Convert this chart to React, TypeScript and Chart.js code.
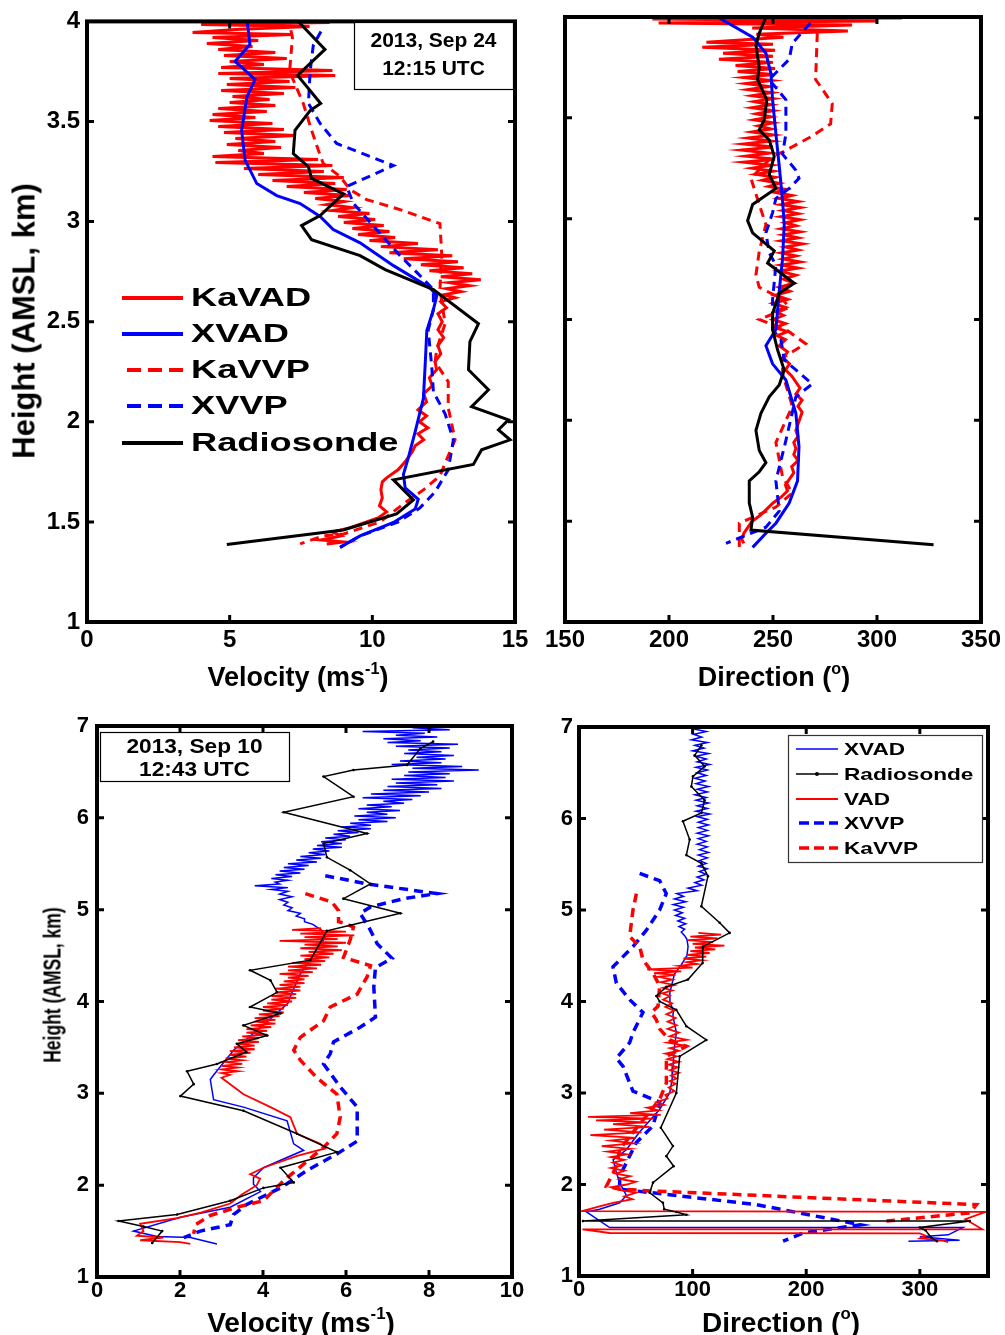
import React, { useEffect, useRef } from "react";
import { Chart, registerables } from "chart.js";
Chart.register(...registerables);

type P = [number, number];

const FONT = '"Liberation Sans", Arial, Helvetica, sans-serif';
const RED = "#ff0000";
const BLUE = "#0000ff";
const BLACK = "#000000";

// ---------- 2013 Sep 24, velocity (m/s) vs height (km) ----------
const sep24VelKaVAD: P[] = [
  [8.5,3.995],[4.0,3.985],[7.8,3.975],[5.2,3.96],[3.7,3.945],[7.2,3.935],[4.4,3.92],[6.0,3.905],[4.2,3.89],[5.8,3.875],
  [4.6,3.86],[6.6,3.845],[4.8,3.83],[7.0,3.815],[5.0,3.80],[6.2,3.785],[4.7,3.77],[8.6,3.755],[4.6,3.74],[8.7,3.73],
  [5.0,3.715],[7.1,3.70],[4.9,3.685],[7.3,3.67],[4.7,3.655],[6.9,3.64],[5.1,3.625],[6.4,3.61],[5.0,3.595],[6.6,3.58],
  [4.6,3.565],[6.3,3.55],[4.4,3.535],[5.9,3.52],[4.3,3.505],[6.5,3.49],[4.6,3.475],[6.9,3.46],[4.8,3.445],[7.3,3.43],
  [5.2,3.415],[6.6,3.40],[4.9,3.385],[6.8,3.37],[5.3,3.355],[6.2,3.34],[4.4,3.325],[8.1,3.31],[4.5,3.295],[8.6,3.28],
  [5.5,3.265],[8.3,3.25],[6.0,3.235],[9.0,3.22],[6.5,3.205],[8.7,3.19],[7.0,3.175],[9.1,3.16],[7.6,3.145],[9.2,3.13],
  [8.0,3.115],[9.0,3.10],[8.4,3.085],[9.3,3.07],[8.6,3.055],[9.9,3.04],[8.8,3.025],[10.1,3.01],[9.0,2.995],[10.4,2.98],
  [9.3,2.965],[10.6,2.95],[9.5,2.935],[10.8,2.92],[9.9,2.905],[11.6,2.89],[10.3,2.875],[12.3,2.86],[10.6,2.845],[12.8,2.83],
  [11.1,2.815],[13.0,2.80],[11.7,2.785],[13.2,2.77],[12.0,2.755],[13.5,2.74],[12.4,2.725],[13.8,2.71],[12.7,2.695],[13.4,2.68],
  [12.6,2.665],[13.1,2.65],[12.5,2.635],[12.9,2.62],[12.4,2.60],[12.6,2.57],[12.3,2.54],[12.45,2.50],[12.3,2.46],[12.5,2.42],
  [12.3,2.38],[12.4,2.34],[12.2,2.30],[12.25,2.26],[12.0,2.22],[12.1,2.18],[11.8,2.14],[11.9,2.10],[11.6,2.06],[11.9,2.03],
  [11.65,2.00],[11.95,1.97],[11.6,1.94],[11.8,1.91],[11.5,1.88],[11.4,1.85],[11.15,1.80],[10.9,1.76],[10.5,1.72],[10.35,1.70],
  [10.3,1.66],[10.35,1.62],[10.25,1.58],[10.5,1.55],[10.2,1.52],[9.8,1.50],[9.2,1.47],[8.6,1.45],[8.9,1.43],[8.2,1.41],
  [9.0,1.40],[8.4,1.39],
];
const sep24VelXVAD: P[] = [
  [5.6,4.02],[5.71,3.885],[5.19,3.80],[5.89,3.71],[5.6,3.62],[5.42,3.456],[5.54,3.307],[5.95,3.19],[6.65,3.13],[7.47,3.09],
  [8.17,3.026],[8.63,2.96],[9.57,2.894],[10.74,2.78],[12.02,2.67],[12.26,2.63],[12.14,2.56],[11.91,2.456],[11.85,2.28],[11.79,2.117],
  [11.5,1.95],[11.26,1.82],[11.09,1.737],[11.15,1.67],[11.61,1.613],[11.5,1.564],[10.74,1.497],[9.57,1.43],[8.87,1.373],
];
const sep24VelKaVVP: P[] = [
  [7.3,4.02],[7.1,3.985],[7.2,3.92],[7.1,3.75],[7.58,3.59],[7.87,3.456],[8.1,3.36],[8.28,3.29],[8.87,3.225],[9.22,3.16],
  [9.8,3.11],[10.97,3.06],[12.37,2.99],[12.43,2.84],[12.37,2.66],[12.55,2.49],[12.26,2.365],[12.2,2.30],[12.66,2.2],[12.66,2.07],
  [12.9,1.91],[12.66,1.83],[12.37,1.73],[11.79,1.66],[11.09,1.59],[10.27,1.50],[9.0,1.44],[8.28,1.43],[7.47,1.39],
];
const sep24VelXVVP: P[] = [
  [8.2,3.95],[7.93,3.88],[7.82,3.75],[7.76,3.59],[8.17,3.49],[8.75,3.39],[10.74,3.28],[9.1,3.175],[9.34,3.09],[10.15,2.96],
  [10.97,2.83],[11.67,2.73],[12.14,2.66],[12.14,2.56],[11.96,2.46],[12.02,2.365],[12.08,2.28],[12.14,2.15],[12.55,2.04],[12.84,1.91],
  [12.66,1.76],[12.2,1.65],[11.67,1.57],[10.91,1.50],[9.57,1.43],[8.87,1.373],
];
const sep24VelRadiosonde: P[] = [
  [7.2,4.05],[7.4,4.0],[8.34,3.86],[7.38,3.73],[8.19,3.59],[7.82,3.555],[7.29,3.456],[7.23,3.34],[7.76,3.274],[7.87,3.216],
  [8.99,3.138],[8.17,3.03],[7.52,2.98],[7.87,2.91],[9.57,2.83],[10.45,2.76],[12.14,2.66],[13.72,2.49],[13.42,2.40],[13.37,2.26],
  [14.07,2.16],[13.48,2.076],[14.77,2.01],[14.42,1.96],[14.83,1.91],[13.83,1.86],[13.54,1.787],[10.74,1.71],[11.44,1.61],[10.85,1.54],
  [8.98,1.46],[4.9,1.387],
];

// ---------- 2013 Sep 24, direction (deg) vs height (km) ----------
const sep24DirKaVAD: P[] = [
  [312,3.995],[192,3.99],[300,3.98],[195,3.97],[288,3.96],[240,3.945],[286,3.93],[242,3.915],[255,3.90],[218,3.875],
  [250,3.865],[216,3.85],[251,3.835],[226,3.82],[250,3.805],[224,3.79],[250,3.775],[232,3.76],[251,3.745],[233,3.73],
  [250,3.715],[236,3.70],[249,3.685],[237,3.67],[248,3.655],[238,3.64],[249,3.625],[240,3.61],[250,3.595],[241,3.58],
  [249,3.565],[240,3.55],[250,3.535],[242,3.52],[249,3.505],[241,3.49],[250,3.475],[243,3.46],[249,3.445],[240,3.43],
  [250,3.415],[238,3.40],[249,3.385],[236,3.37],[250,3.355],[235,3.34],[248,3.325],[237,3.31],[251,3.295],[236,3.28],
  [249,3.265],[240,3.25],[250,3.235],[242,3.22],[251,3.205],[245,3.19],[253,3.175],[248,3.16],[256,3.145],[251,3.13],
  [259,3.115],[253,3.10],[262,3.085],[254,3.07],[263,3.055],[255,3.04],[262,3.025],[254,3.01],[263,2.995],[256,2.98],
  [261,2.965],[254,2.95],[263,2.935],[255,2.92],[262,2.905],[254,2.89],[264,2.875],[256,2.86],[262,2.845],[254,2.83],
  [261,2.815],[255,2.80],[263,2.785],[254,2.77],[262,2.755],[253,2.74],[261,2.72],[255,2.70],[260,2.68],[253,2.66],
  [258,2.64],[251,2.62],[257,2.60],[250,2.58],[256,2.56],[251,2.54],[255,2.52],[250,2.50],[256,2.48],[251,2.46],
  [257,2.44],[252,2.42],[256,2.40],[253,2.37],[257,2.34],[255,2.31],[258,2.28],[256,2.25],[259,2.22],[261,2.19],
  [263,2.16],[261,2.13],[264,2.10],[262,2.07],[264,2.04],[263,2.01],[262,1.98],[261,1.95],[262,1.92],[260,1.89],
  [261,1.86],[260,1.83],[262,1.80],[259,1.77],[260,1.74],[258,1.71],[256,1.68],[257,1.65],[254,1.62],[250,1.59],
  [247,1.56],[244,1.53],[240,1.50],[238,1.47],[236,1.44],[235,1.41],[236,1.39],
];
const sep24DirXVAD: P[] = [
  [220,4.02],[240.2,3.90],[246.6,3.82],[249,3.72],[249.8,3.59],[251.4,3.42],[253,3.26],[254.6,3.09],[255.4,2.97],[254.6,2.80],
  [253,2.64],[251.4,2.45],[246.6,2.37],[249.8,2.28],[256.2,2.2],[261,2.035],[262.5,1.87],[261.8,1.70],[257.8,1.59],[251.4,1.49],
  [246.6,1.44],[240.2,1.37],
];
const sep24DirKaVVP: P[] = [
  [271.3,3.92],[270.5,3.69],[278.5,3.57],[277.7,3.47],[268.9,3.41],[254.6,3.33],[249.8,3.31],[239.4,3.2],[243.4,3.07],[246.6,2.97],
  [243.4,2.84],[241.8,2.72],[243.4,2.66],[254.6,2.6],[257.8,2.56],[243.4,2.50],[256.2,2.45],[265.7,2.38],[254.6,2.31],[254.6,2.23],
  [259.3,2.07],[251.4,1.89],[254.6,1.72],[259.3,1.64],[251.4,1.57],[233.8,1.49],[233.8,1.37],
];
const sep24DirXVVP: P[] = [
  [268,3.97],[259.3,3.87],[257.8,3.79],[253,3.74],[248.2,3.69],[256.2,3.59],[256.2,3.42],[254.6,3.32],[261,3.24],[262.5,3.2],
  [257.8,3.15],[251.4,3.10],[249.8,3.03],[246.6,2.93],[248.2,2.83],[251.4,2.77],[249.8,2.6],[249.8,2.45],[253.8,2.40],[255.4,2.3],
  [268.9,2.18],[261,2.117],[256.2,1.9],[251.4,1.70],[253,1.55],[246.6,1.47],[227.4,1.39],
];
const sep24DirRadiosonde: P[] = [
  [246,4.05],[246.6,4.0],[243.4,3.92],[241.8,3.86],[243.4,3.75],[242.6,3.69],[247,3.59],[245.8,3.49],[243.4,3.44],[248.2,3.39],
  [250.6,3.31],[248.2,3.22],[251.4,3.15],[240.2,3.07],[237.8,2.99],[240.2,2.93],[250.6,2.84],[247.4,2.78],[260.2,2.68],[253,2.63],
  [249.8,2.53],[249.8,2.45],[252.2,2.35],[255.4,2.25],[253,2.175],[248.2,2.117],[244.2,2.035],[241.8,1.95],[243.4,1.85],[246.6,1.79],
  [243.4,1.745],[238.6,1.70],[238.6,1.59],[240.2,1.52],[239.4,1.456],[327.2,1.383],
];

// ---------- 2013 Sep 10, velocity ----------
const sep10VelXVAD: P[] = [
  [7.6,6.98],[8.5,6.96],[6.4,6.94],[7.9,6.92],[7.2,6.90],[8.2,6.88],[6.9,6.86],[7.8,6.84],[7.0,6.82],[8.7,6.80],
  [7.2,6.78],[8.5,6.76],[7.5,6.74],[8.3,6.72],[7.4,6.70],[8.6,6.68],[7.7,6.66],[8.4,6.64],[7.3,6.62],[8.3,6.60],
  [7.1,6.58],[8.8,6.56],[7.6,6.54],[9.2,6.52],[7.5,6.50],[8.5,6.48],[7.4,6.46],[8.4,6.44],[7.1,6.42],[8.6,6.40],
  [7.2,6.38],[8.2,6.36],[7.0,6.34],[8.3,6.32],[6.9,6.30],[8.0,6.28],[6.6,6.26],[7.8,6.24],[6.4,6.22],[7.6,6.20],
  [6.9,6.18],[7.4,6.16],[6.5,6.14],[7.1,6.12],[6.3,6.10],[7.3,6.08],[6.5,6.06],[7.0,6.04],[6.2,6.02],[7.2,6.00],
  [6.3,5.98],[7.0,5.96],[6.1,5.94],[6.6,5.92],[5.9,5.90],[6.6,5.88],[5.8,5.86],[6.3,5.84],[5.7,5.82],[6.1,5.80],
  [5.5,5.78],[6.0,5.76],[5.4,5.74],[5.9,5.72],[5.3,5.70],[5.9,5.68],[5.2,5.66],[5.6,5.64],[5.1,5.62],[5.5,5.60],
  [4.9,5.58],[5.4,5.56],[4.8,5.54],[5.3,5.52],[4.6,5.50],[5.1,5.48],[4.5,5.46],[5.0,5.44],[4.4,5.42],[4.9,5.40],
  [4.3,5.38],[4.7,5.36],[4.2,5.34],[4.6,5.32],[4.3,5.30],[4.4,5.28],[3.8,5.26],[4.6,5.24],[4.2,5.22],[4.6,5.20],
  [4.4,5.17],[4.7,5.14],[4.4,5.11],[4.6,5.08],[4.5,5.05],[4.7,5.02],[4.6,4.99],[4.9,4.96],[4.8,4.93],[5.0,4.90],
  [5.0,4.87],[5.2,4.84],[5.3,4.81],[5.4,4.78],[5.5,4.70],[5.2,4.5],[4.9,4.3],[4.7,4.1],[4.6,3.98],[4.0,3.74],
  [3.29,3.47],[2.81,3.2],[2.73,3.15],[2.81,2.93],[3.53,2.85],[4.58,2.70],[4.74,2.45],[4.98,2.38],[4.01,2.19],[3.77,2.08],
  [3.77,2.01],[3.94,1.93],[3.21,1.76],[2.01,1.65],[0.88,1.50],[1.45,1.44],[2.25,1.43],[2.89,1.36],
];
const sep10VelRadiosonde: P[] = [
  [8.1,6.83],[7.79,6.755],[7.47,6.575],[6.18,6.52],[5.46,6.45],[6.18,6.23],[4.5,6.06],[6.51,5.83],[5.46,5.72],[5.54,5.57],
  [6.1,5.43],[6.59,5.28],[5.94,5.12],[7.31,4.96],[6.1,4.83],[5.54,4.77],[5.14,4.45],[3.69,4.34],[4.18,4.23],[4.34,4.10],
  [3.69,3.94],[4.42,3.87],[3.53,3.74],[4.1,3.63],[3.37,3.54],[3.6,3.45],[2.89,3.32],[2.17,3.24],[2.33,3.10],[2.01,2.97],
  [3.53,2.81],[4.82,2.56],[5.78,2.36],[4.42,2.19],[4.74,2.03],[4.01,1.97],[3.21,1.83],[1.93,1.68],[0.52,1.61],[1.12,1.55],
  [1.57,1.50],[1.33,1.37],
];
const sep10VelKaVAD: P[] = [
  [5.4,4.80],[4.7,4.78],[6.0,4.76],[4.9,4.74],[6.2,4.72],[5.0,4.70],[5.8,4.68],[4.4,4.66],[6.0,4.64],[5.0,4.62],
  [5.8,4.60],[4.9,4.58],[5.9,4.56],[5.1,4.54],[5.7,4.52],[4.9,4.50],[5.6,4.48],[5.0,4.46],[5.5,4.44],[4.7,4.42],
  [5.4,4.40],[4.6,4.38],[5.3,4.36],[4.6,4.34],[5.2,4.32],[4.4,4.30],[5.1,4.28],[4.6,4.26],[5.0,4.24],[4.5,4.22],
  [5.0,4.20],[4.4,4.18],[4.9,4.16],[4.3,4.14],[4.9,4.12],[4.3,4.10],[4.8,4.08],[4.2,4.06],[4.8,4.04],[4.2,4.02],
  [4.7,4.00],[4.1,3.98],[4.6,3.96],[4.0,3.94],[4.5,3.92],[4.0,3.90],[4.5,3.88],[3.9,3.86],[4.4,3.84],[3.8,3.82],
  [4.3,3.80],[3.8,3.78],[4.3,3.76],[3.7,3.74],[4.2,3.72],[3.6,3.70],[4.1,3.68],[3.6,3.66],[4.1,3.64],[3.5,3.62],
  [3.9,3.60],[3.4,3.58],[3.9,3.56],[3.4,3.54],[3.8,3.52],[3.3,3.50],[3.8,3.48],[3.2,3.46],[3.7,3.44],[3.2,3.42],
  [3.6,3.40],[3.1,3.38],[3.5,3.36],[3.1,3.34],[3.5,3.32],[3.0,3.30],[3.4,3.28],[3.0,3.26],[3.4,3.24],[3.0,3.22],
  [3.2,3.20],[3.0,3.17],[3.53,2.99],[4.18,2.85],[4.66,2.74],[4.82,2.56],[5.38,2.45],[5.5,2.40],[4.82,2.32],[4.01,2.19],
  [3.69,2.12],[3.93,2.07],[3.85,2.0],[3.5,1.90],[3.21,1.80],[2.5,1.70],[1.93,1.64],[1.04,1.58],[1.12,1.50],[0.96,1.45],
  [1.6,1.43],[1.04,1.40],[2.0,1.38],[2.25,1.36],
];
const sep10VelXVVP: P[] = [
  [5.5,5.37],[6.51,5.28],[8.19,5.175],[7.39,5.12],[6.59,5.03],[6.34,4.96],[6.55,4.81],[6.75,4.63],[7.11,4.47],[6.71,4.37],
  [6.67,4.16],[6.71,3.83],[6.34,3.72],[5.7,3.56],[5.62,3.43],[5.46,3.32],[5.86,3.07],[6.27,2.85],[6.27,2.48],[5.78,2.34],
  [5.06,2.16],[4.42,1.97],[3.61,1.79],[3.29,1.68],[3.21,1.57],[2.49,1.50],[2.09,1.43],
];
const sep10VelKaVVP: P[] = [
  [5.02,5.175],[5.66,5.083],[5.82,4.99],[5.82,4.87],[5.98,4.85],[6.18,4.81],[6.1,4.67],[5.94,4.48],[6.59,4.39],[6.51,4.27],
  [6.27,4.08],[5.62,3.94],[5.46,3.79],[4.9,3.61],[4.74,3.47],[4.9,3.36],[5.3,3.17],[5.78,2.99],[5.86,2.74],[5.78,2.56],
  [5.46,2.41],[4.98,2.23],[4.5,2.05],[4.01,1.83],[3.37,1.76],[2.73,1.67],[2.37,1.57],[2.33,1.47],
];

// ---------- 2013 Sep 10, direction ----------
const sep10DirXVAD: P[] = [
  [100,6.98],[112,6.95],[101,6.92],[108,6.89],[99,6.86],[113,6.83],[102,6.80],[110,6.77],[100,6.74],[114,6.71],
  [103,6.68],[112,6.65],[104,6.62],[115,6.59],[103,6.56],[113,6.53],[104,6.50],[112,6.47],[102,6.44],[111,6.41],
  [103,6.38],[114,6.35],[104,6.32],[113,6.29],[102,6.26],[112,6.23],[103,6.20],[114,6.17],[104,6.14],[113,6.11],
  [103,6.08],[115,6.05],[104,6.02],[113,5.99],[105,5.96],[114,5.93],[105,5.90],[113,5.87],[104,5.84],[114,5.81],
  [105,5.78],[112,5.75],[104,5.72],[113,5.69],[106,5.66],[114,5.63],[105,5.60],[113,5.57],[106,5.54],[112,5.51],
  [105,5.48],[113,5.45],[106,5.42],[112,5.39],[104,5.36],[110,5.33],[102,5.30],[108,5.27],[96,5.24],[104,5.21],
  [86,5.18],[92,5.15],[84,5.12],[94,5.09],[83,5.06],[92,5.03],[84,5.00],[91,4.97],[85,4.94],[93,4.91],
  [87,4.88],[94,4.85],[88,4.82],[93,4.79],[90,4.76],[93,4.72],[95,4.68],[96,4.60],[95,4.50],[90,4.40],
  [84,4.30],[82,4.20],[80,4.10],[80,4.00],[83,3.90],[82.7,3.84],[85.7,3.66],[84,3.50],[82.7,3.29],[82,3.15],
  [79.8,3.0],[70.9,2.82],[53.1,2.57],[41.7,2.38],[30,2.27],[32.9,2.13],[35.8,2.02],[41.7,1.88],[35.8,1.80],[18.2,1.73],
  [6.5,1.70],[27,1.53],[338,1.53],[325,1.45],[300,1.43],[335,1.39],[290,1.38],
];
const sep10DirRadiosonde: P[] = [
  [107.7,6.80],[101.8,6.69],[110.6,6.57],[100.3,6.46],[98.9,6.35],[110.6,6.2],[107.7,6.06],[91.5,5.97],[97.4,5.77],[94.5,5.60],
  [107.7,5.51],[113.5,5.37],[107.7,5.04],[123.8,4.86],[132.6,4.75],[109.1,4.60],[108.8,4.42],[95.9,4.24],[76.9,4.16],[68.1,4.06],
  [71,4.0],[85.6,3.91],[94.5,3.73],[112.1,3.58],[88.6,3.40],[85.7,3.0],[72,2.62],[82.7,2.42],[76.9,2.31],[83.3,2.20],
  [65.1,2.02],[62.2,1.91],[73.9,1.80],[75,1.73],[85.7,1.70],[94.5,1.67],[3.5,1.60],[344,1.60],[300,1.53],[305,1.50],
  [310,1.42],[315,1.38],
];
const sep10DirKaVAD: P[] = [
  [105,4.75],[125,4.73],[98,4.71],[122,4.69],[96,4.67],[118,4.65],[100,4.63],[128,4.61],[102,4.59],[120,4.57],
  [98,4.55],[115,4.53],[95,4.51],[112,4.49],[92,4.47],[108,4.45],[95,4.43],[104,4.41],[88,4.39],[100,4.37],
  [60,4.35],[90,4.33],[66,4.31],[85,4.29],[70,4.27],[82,4.24],[72,4.21],[84,4.18],[74,4.15],[82,4.12],
  [73,4.09],[80,4.06],[74,4.02],[82,3.98],[76,3.94],[84,3.90],[77,3.86],[85,3.82],[78,3.78],[86,3.74],
  [78,3.70],[88,3.66],[80,3.62],[95,3.58],[78,3.55],[92,3.52],[80,3.49],[88,3.46],[76,3.43],[86,3.40],
  [78,3.37],[88,3.34],[79,3.31],[87,3.28],[80,3.25],[88,3.22],[81,3.19],[86,3.16],[80,3.13],[85,3.10],
  [79,3.06],[84,3.02],[76,2.98],[78,2.94],[68,2.90],[75,2.87],[60,2.84],[70,2.81],[45,2.78],[72,2.76],
  [8,2.74],[66,2.72],[15,2.70],[60,2.68],[30,2.66],[62,2.63],[22,2.60],[55,2.57],[10,2.54],[50,2.51],
  [28,2.48],[48,2.45],[20,2.42],[45,2.39],[25,2.36],[42,2.33],[28,2.30],[40,2.27],[30,2.24],[38,2.21],
  [28,2.18],[40,2.15],[32,2.12],[45,2.09],[36,2.06],[50,2.03],[42,2.00],[28,1.97],[35,1.94],[50,1.91],
  [40,1.87],[47,1.84],[30,1.80],[18,1.76],[3,1.71],[358,1.70],[340,1.62],[355,1.51],[3,1.51],[27,1.47],
  [300,1.465],[305,1.44],[300,1.41],[320,1.39],[325,1.37],
];
const sep10DirXVVP: P[] = [
  [53.4,5.40],[71,5.32],[76.8,5.18],[71,5.0],[59.3,4.78],[47.5,4.6],[29.9,4.38],[32.9,4.20],[44.6,4.02],[56.3,3.88],
  [47.5,3.66],[44.6,3.55],[32.9,3.38],[38.8,3.29],[47.5,3.02],[71,2.90],[65.1,2.64],[50.5,2.46],[35.8,2.09],[35.8,1.95],
  [156,1.78],[248,1.56],[197.2,1.47],[179.6,1.38],
];
const sep10DirKaVVP: P[] = [
  [50.5,5.18],[47.5,5.0],[44.6,4.71],[53.4,4.6],[56.3,4.456],[65.1,4.31],[71,4.17],[69.6,3.95],[63.7,3.88],[68.1,3.8],
  [71,3.7],[79.8,3.58],[94.5,3.51],[76.9,3.40],[76.9,3.11],[71,2.93],[59.3,2.75],[47.5,2.57],[35.8,2.38],[32.9,2.2],
  [24.1,1.98],[35.8,1.95],[62.8,1.93],[349.8,1.78],[344,1.69],[270.6,1.60],
];

// Tick settings
const sep24HeightTicks = { min: 1, max: 4, step: 0.5 };
const sep10HeightTicks = { min: 1, max: 7, step: 1 };
const sep24VelTicks = { min: 0, max: 15, step: 5 };
const sep24DirTicks = { min: 150, max: 350, step: 50 };
const sep10VelTicks = { min: 0, max: 10, step: 2 };
const sep10DirTicks = { min: 0, max: 360, step: 100 };

const pts = (a: P[]) => a.map(([x, y]) => ({ x, y }));

function ds(label: string, data: P[], color: string, width: number, dashed: boolean, order: number, dots = false) {
  return {
    label,
    data: pts(data),
    showLine: true,
    borderColor: color,
    backgroundColor: color,
    borderWidth: width,
    borderDash: dashed ? [9, 6] : [],
    pointRadius: dots ? 1.3 : 0,
    pointBorderWidth: 0,
    pointBackgroundColor: color,
    tension: 0,
    order,
  };
}

const framePlugin = {
  id: "frame",
  afterDatasetsDraw(chart: any) {
    const { ctx, chartArea: a, scales } = chart;
    ctx.save();
    ctx.strokeStyle = "#000";
    ctx.lineWidth = 3;
    ctx.setLineDash([]);
    const tl = 7;
    ctx.beginPath();
    for (const t of scales.x.ticks) {
      const x = scales.x.getPixelForValue(t.value);
      ctx.moveTo(x, a.bottom); ctx.lineTo(x, a.bottom - tl);
      ctx.moveTo(x, a.top); ctx.lineTo(x, a.top + tl);
    }
    for (const t of scales.y.ticks) {
      const y = scales.y.getPixelForValue(t.value);
      ctx.moveTo(a.left, y); ctx.lineTo(a.left + tl, y);
      ctx.moveTo(a.right, y); ctx.lineTo(a.right - tl, y);
    }
    ctx.stroke();
    ctx.lineWidth = 4;
    ctx.strokeRect(a.left, a.top, a.right - a.left, a.bottom - a.top);
    ctx.restore();
  },
  afterDraw(chart: any) {
    const o = chart.options.plugins.frame || {};
    const ctx = chart.ctx;
    const ox = o.ox || 0, oy = o.oy || 0;
    ctx.save();
    if (o.box) {
      const b = o.box;
      ctx.fillStyle = "#fff";
      ctx.fillRect(b.l - ox, b.t - oy, b.r - b.l, b.b - b.t);
      ctx.strokeStyle = b.stroke || "#000";
      ctx.lineWidth = 1.2;
      ctx.setLineDash([]);
      ctx.strokeRect(b.l - ox + 0.5, b.t - oy + 0.5, b.r - b.l, b.b - b.t);
      if (b.lines) {
        ctx.fillStyle = "#000";
        ctx.font = `bold ${b.size}px ${FONT}`;
        ctx.textAlign = "center";
        ctx.textBaseline = "middle";
        b.lines.forEach((s: string, i: number) => {
          ctx.save();
          ctx.translate((b.l + b.r) / 2 - ox, b.ys[i] - oy);
          ctx.scale(b.sx || 1, 1);
          ctx.fillText(s, 0, 0);
          ctx.restore();
        });
      }
    }
    if (o.legend) {
      const L = o.legend;
      L.items.forEach((it: any, i: number) => {
        const d = chart.data.datasets[it.ds];
        const y = L.ys[i] - oy;
        ctx.save();
        ctx.strokeStyle = d.borderColor;
        ctx.lineWidth = L.lw || d.borderWidth;
        const dashed = d.borderDash && d.borderDash.length > 0;
        ctx.setLineDash(dashed ? L.dash : []);
        ctx.beginPath();
        ctx.moveTo(L.x0 - ox + (dashed ? L.dashInset : 0), y);
        ctx.lineTo(L.x1 - ox, y);
        ctx.stroke();
        if (d.pointRadius > 0) {
          ctx.fillStyle = d.borderColor;
          ctx.beginPath();
          ctx.arc((L.x0 + L.x1) / 2 - ox, y, 2, 0, Math.PI * 2);
          ctx.fill();
        }
        ctx.fillStyle = "#000";
        ctx.font = `bold ${L.size}px ${FONT}`;
        ctx.textAlign = "left";
        ctx.textBaseline = "middle";
        ctx.translate(L.tx - ox, y + 1);
        ctx.scale(L.sx, 1);
        ctx.fillText(d.label, 0, 0);
        ctx.restore();
      });
    }
    ctx.restore();
  },
};

type Spec = {
  x: number; y: number; w: number; h: number;
  plot: { l: number; t: number; r: number; b: number };
  xt: { min: number; max: number; step: number };
  yt: { min: number; max: number; step: number };
  showY: boolean;
  font: number;
  xPad: number;
  yPad: number;
  datasets: any[];
  overlay: any;
};

function buildConfig(s: Spec): any {
  const tickFont = { family: FONT, weight: "bold", size: s.font };
  return {
    type: "scatter",
    data: { datasets: s.datasets },
    options: {
      responsive: false,
      animation: false,
      events: [],
      layout: { padding: { left: 0, bottom: 0, top: s.plot.t - s.y, right: s.x + s.w - s.plot.r } },
      plugins: {
        legend: { display: false },
        tooltip: { enabled: false },
        frame: { ox: s.x, oy: s.y, ...s.overlay },
      },
      scales: {
        x: {
          type: "linear",
          min: s.xt.min, max: s.xt.max,
          ticks: { stepSize: s.xt.step, includeBounds: false, font: tickFont, color: "#000", padding: s.xPad, maxRotation: 0, callback: (v: any) => String(v) },
          grid: { display: false, drawTicks: false },
          border: { display: false },
          afterFit: (sc: any) => { sc.height = s.y + s.h - s.plot.b; },
        },
        y: {
          type: "linear",
          min: s.yt.min, max: s.yt.max,
          ticks: { stepSize: s.yt.step, includeBounds: false, display: s.showY, font: tickFont, color: "#000", padding: s.yPad, callback: (v: any) => String(v) },
          grid: { display: false, drawTicks: false },
          border: { display: false },
          afterFit: (sc: any) => { sc.width = s.plot.l - s.x; },
        },
      },
    },
    plugins: [framePlugin],
  };
}

function Panel({ spec }: { spec: Spec }) {
  const ref = useRef<HTMLCanvasElement>(null);
  useEffect(() => {
    const chart = new Chart(ref.current as HTMLCanvasElement, buildConfig(spec));
    return () => chart.destroy();
  }, []);
  return (
    <canvas ref={ref} width={spec.w} height={spec.h}
      style={{ position: "absolute", left: spec.x, top: spec.y, width: spec.w, height: spec.h }} />
  );
}

const topLegend = {
  items: [{ ds: 0 }, { ds: 1 }, { ds: 2 }, { ds: 3 }, { ds: 4 }],
  ys: [298, 334, 370, 406, 443],
  x0: 122, x1: 183, dashInset: 5, dash: [14, 7], lw: 4,
  tx: 191, size: 25, sx: 1.45,
};

const panels: Spec[] = [
  {
    x: 40, y: 0, w: 500, h: 660, plot: { l: 87, t: 17, r: 515, b: 622 },
    xt: sep24VelTicks, yt: sep24HeightTicks, showY: true, font: 24, xPad: 4, yPad: 7,
    datasets: [
      ds("KaVAD", sep24VelKaVAD, RED, 3, false, 5),
      ds("XVAD", sep24VelXVAD, BLUE, 3, false, 2),
      ds("KaVVP", sep24VelKaVVP, RED, 3, true, 4),
      ds("XVVP", sep24VelXVVP, BLUE, 3, true, 3),
      ds("Radiosonde", sep24VelRadiosonde, BLACK, 3, false, 1),
    ],
    overlay: {
      legend: topLegend,
      box: { l: 354, t: 22, r: 513, b: 89, lines: ["2013, Sep 24", "12:15 UTC"], ys: [41, 69], size: 21 },
    },
  },
  {
    x: 540, y: 0, w: 465, h: 660, plot: { l: 565, t: 17, r: 983, b: 622 },
    xt: sep24DirTicks, yt: sep24HeightTicks, showY: false, font: 24, xPad: 4, yPad: 7,
    datasets: [
      ds("KaVAD", sep24DirKaVAD, RED, 3, false, 5),
      ds("XVAD", sep24DirXVAD, BLUE, 3, false, 2),
      ds("KaVVP", sep24DirKaVVP, RED, 3, true, 4),
      ds("XVVP", sep24DirXVVP, BLUE, 3, true, 3),
      ds("Radiosonde", sep24DirRadiosonde, BLACK, 3, false, 1),
    ],
    overlay: {},
  },
  {
    x: 20, y: 690, w: 520, h: 620, plot: { l: 97, t: 726, r: 512, b: 1277 },
    xt: sep10VelTicks, yt: sep10HeightTicks, showY: true, font: 22, xPad: 1, yPad: 8,
    datasets: [
      ds("XVAD", sep10VelXVAD, BLUE, 1.5, false, 4),
      ds("Radiosonde", sep10VelRadiosonde, BLACK, 1.5, false, 1, true),
      ds("VAD", sep10VelKaVAD, RED, 1.8, false, 3),
      ds("XVVP", sep10VelXVVP, BLUE, 3.5, true, 5),
      ds("KaVVP", sep10VelKaVVP, RED, 3.5, true, 2),
    ],
    overlay: {
      box: { l: 100, t: 732, r: 289, b: 781, lines: ["2013, Sep 10", "12:43 UTC"], ys: [747, 770], size: 21, sx: 1.08 },
    },
  },
  {
    x: 540, y: 690, w: 465, h: 620, plot: { l: 579, t: 727, r: 988, b: 1276 },
    xt: sep10DirTicks, yt: sep10HeightTicks, showY: true, font: 22, xPad: 1, yPad: 6,
    datasets: [
      ds("XVAD", sep10DirXVAD, BLUE, 1.5, false, 4),
      ds("Radiosonde", sep10DirRadiosonde, BLACK, 1.5, false, 1, true),
      ds("VAD", sep10DirKaVAD, RED, 1.8, false, 3),
      ds("XVVP", sep10DirXVVP, BLUE, 3.5, true, 5),
      ds("KaVVP", sep10DirKaVVP, RED, 3.5, true, 2),
    ],
    overlay: {
      box: { l: 788, t: 735, r: 982, b: 862, stroke: "#333" },
      legend: {
        items: [{ ds: 0 }, { ds: 1 }, { ds: 2 }, { ds: 3 }, { ds: 4 }],
        ys: [749, 774, 799, 823, 848],
        x0: 796, x1: 838, dashInset: 3, dash: [10, 5], lw: 0,
        tx: 844, size: 17, sx: 1.33,
      },
    },
  },
];

const titleBase: React.CSSProperties = {
  position: "absolute",
  fontFamily: FONT,
  fontWeight: "bold",
  whiteSpace: "nowrap",
  color: "#000",
  transform: "translate(-50%, -50%)",
  lineHeight: 1,
};

function Sup({ children }: { children: React.ReactNode }) {
  return <span style={{ fontSize: "0.6em", position: "relative", top: "-0.75em" }}>{children}</span>;
}

export default function App() {
  return (
    <div style={{ position: "absolute", left: 0, top: 0, width: 1005, height: 1335, overflow: "hidden", background: "#fff" }}>
      {panels.map((p, i) => (
        <Panel key={i} spec={p} />
      ))}
      <div style={{ ...titleBase, left: 24, top: 321, fontSize: 31, transform: "translate(-50%, -50%) rotate(-90deg)" }}>
        Height (AMSL, km)
      </div>
      <div style={{ ...titleBase, left: 53, top: 985, fontSize: 23, transform: "translate(-50%, -50%) rotate(-90deg) scaleX(0.76)" }}>
        Height (AMSL, km)
      </div>
      <div style={{ ...titleBase, left: 298, top: 677, fontSize: 27 }}>
        Velocity (ms<Sup>-1</Sup>)
      </div>
      <div style={{ ...titleBase, left: 774, top: 677, fontSize: 27 }}>
        Direction (<Sup>o</Sup>)
      </div>
      <div style={{ ...titleBase, left: 301, top: 1323, fontSize: 28 }}>
        Velocity (ms<Sup>-1</Sup>)
      </div>
      <div style={{ ...titleBase, left: 781, top: 1323, fontSize: 28 }}>
        Direction (<Sup>o</Sup>)
      </div>
    </div>
  );
}
